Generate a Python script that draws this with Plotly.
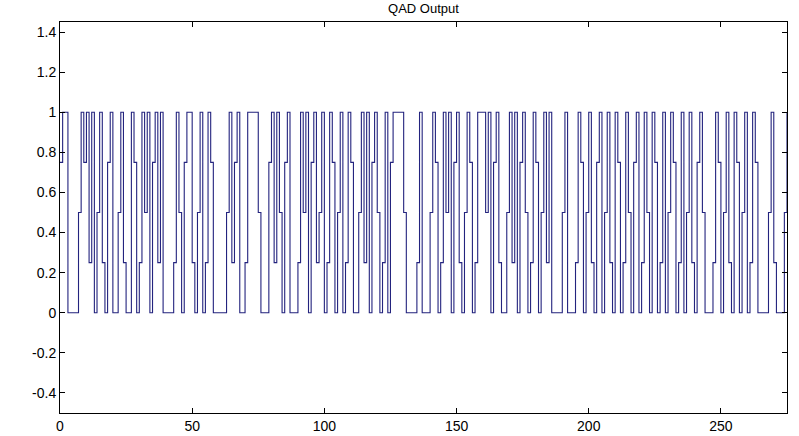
import plotly.graph_objects as go

# sample index (0..275) and quantised output level
samples = list(range(276))
qad_output = [
    0.75, 1, 1, 0, 0, 0, 0, 0.5, 1, 0.75, 1, 0.25, 1, 0, 0.5, 1, 0.25, 0, 0.75, 1,
    0, 0, 0.5, 1, 0.25, 0, 0, 1, 0.75, 0, 0.25, 1, 0.5, 1, 0, 0.75, 1, 0.25, 1, 0,
    0, 0, 0, 0.25, 1, 0.5, 0, 0.75, 1, 1, 0.25, 0, 0.5, 1, 0, 0.25, 1, 0.75, 0, 0,
    0, 0, 0, 0.5, 1, 0.25, 0.75, 1, 0, 0, 0.25, 1, 1, 1, 1, 0.5, 0, 0, 0, 0.75,
    1, 0.25, 1, 0.5, 0, 0.75, 1, 0, 0, 0, 0.25, 1, 0.5, 1, 0, 0.75, 1, 0.25, 0.5, 1,
    0, 0.25, 1, 0.75, 0, 0.5, 1, 0, 0.25, 1, 0.75, 0, 0, 0.5, 1, 0.25, 1, 0, 0.75, 1,
    0.5, 0, 0.25, 1, 0, 0.75, 1, 1, 1, 1, 0.5, 0, 0, 0, 0, 0.25, 1, 0, 0, 0,
    0.5, 1, 0.75, 0, 0.25, 1, 0.5, 1, 0, 0.75, 1, 0.25, 0, 0.5, 1, 0.75, 0, 0.25, 1, 1,
    1, 0.5, 1, 0, 0.75, 1, 0.25, 0, 0, 0.5, 1, 0.25, 1, 0, 0.75, 1, 0.5, 0, 0.25, 1,
    0.75, 0, 0.5, 1, 0.25, 1, 0, 0, 0, 0, 0.5, 1, 0, 0, 0, 0.25, 1, 0.75, 0, 0.5,
    1, 0.25, 0, 0.75, 1, 0, 0.5, 1, 0.25, 0, 1, 0.75, 0, 0.25, 1, 0.5, 0, 0.75, 1, 0,
    0.25, 1, 0.5, 0, 1, 0.75, 0, 0.25, 1, 0, 0.5, 1, 0.75, 0, 0.25, 1, 0, 0.5, 1, 0.25,
    0, 0.75, 1, 0.5, 0, 0, 0, 0.25, 1, 0.75, 0, 0.5, 1, 0.25, 0, 1, 0.75, 0, 0.5, 1,
    0, 0.25, 1, 0.75, 0, 0, 0, 0, 0.5, 1, 0.25, 0, 0, 0, 0.5, 1,
]

x_ticks = [0, 50, 100, 150, 200, 250]
y_ticks = [-0.4, -0.2, 0, 0.2, 0.4, 0.6, 0.8, 1, 1.2, 1.4]
y_tick_labels = ["-0.4", "-0.2", "0", "0.2", "0.4", "0.6", "0.8", "1", "1.2", "1.4"]

fig = go.Figure()
fig.add_trace(go.Scatter(
    x=samples, y=qad_output, mode="lines",
    line=dict(shape="hv", color="#23237e", width=1.1),
    showlegend=False, hoverinfo="skip",
))

axis_common = dict(
    showgrid=False, zeroline=False, showline=True, linecolor="#000000",
    linewidth=1, mirror="ticks", ticks="inside", ticklen=5, automargin=False,
    tickcolor="#000000", tickfont=dict(family="Liberation Sans, Arial", size=14, color="#000000"),
)

fig.update_layout(
    width=799, height=436,
    margin=dict(l=60, r=12, t=22, b=23),
    paper_bgcolor="#ffffff", plot_bgcolor="#ffffff",
    title=dict(text="QAD Output", x=0.53, xanchor="center", y=0.99, yanchor="top",
               font=dict(family="Liberation Sans, Arial", size=13, color="#000000"),
               automargin=False),
    xaxis=dict(range=[0, 275], tickvals=x_ticks, ticklabelstandoff=0, **axis_common),
    yaxis=dict(range=[-0.5, 1.45], tickvals=y_ticks, ticktext=y_tick_labels, **axis_common),
)

fig.write_html("out.html")
